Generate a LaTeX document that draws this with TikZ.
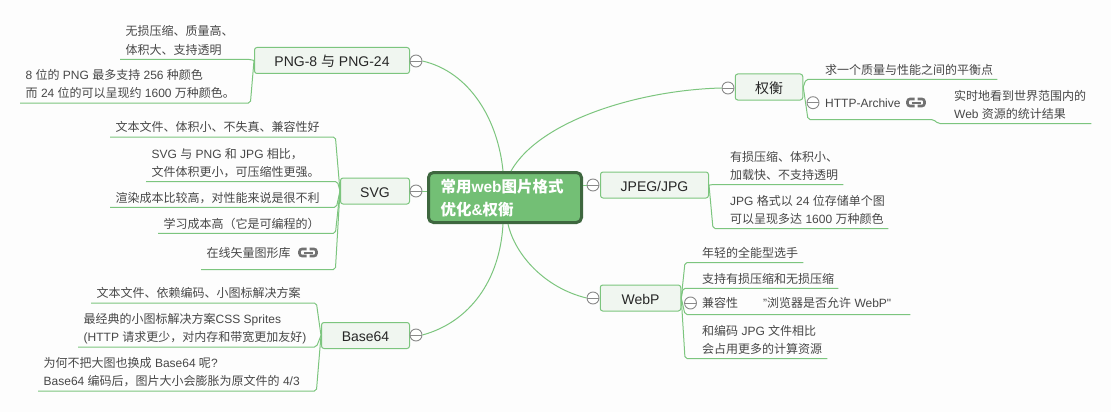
\documentclass[tikz,border=0pt]{standalone}
\usepackage{fontspec}
\setmainfont{Liberation Sans}
\newfontfamily\latinfont{Liberation Sans}
\newfontfamily\cjk{Noto Sans CJK SC}
% switch to the CJK font by itself, between Latin and Chinese characters
\XeTeXinterchartokenstate=1
\newXeTeXintercharclass\zhclass
\newcount\zhchar
\zhchar="3000 \loop \XeTeXcharclass\zhchar=\zhclass \advance\zhchar by 1 \ifnum\zhchar<"3040 \repeat
\zhchar="4E00 \loop \XeTeXcharclass\zhchar=\zhclass \advance\zhchar by 1 \ifnum\zhchar<"A000 \repeat
\zhchar="FF00 \loop \XeTeXcharclass\zhchar=\zhclass \advance\zhchar by 1 \ifnum\zhchar<"FFF0 \repeat
\XeTeXinterchartoks 0 \zhclass={\cjk}
\XeTeXinterchartoks 4095 \zhclass={\cjk}
\XeTeXinterchartoks \zhclass 0={\latinfont}
\XeTeXinterchartoks \zhclass 4095={\latinfont}
\usetikzlibrary{positioning}
\definecolor{pagebg}{HTML}{FDFDFD}
\definecolor{mapgreen}{HTML}{7CC57E}
\definecolor{rootgreen}{HTML}{73BF75}
\definecolor{rootedge}{HTML}{3E673F}
\definecolor{topicfill}{HTML}{F0F6F0}
\definecolor{foldgray}{HTML}{8A8A8A}
\definecolor{iconcol}{HTML}{727272}
\tikzset{
  root/.style={draw=rootedge, fill=rootgreen, line width=3pt, rounded corners=5pt, text=white,
    font=\fontsize{15.5}{23}\selectfont\bfseries, align=left, text width=129pt, inner xsep=12pt,
    text height=15pt, text depth=26pt, minimum height=50pt},
  topic/.style={draw=mapgreen, fill=topicfill, line width=1pt, rounded corners=2.5pt, text=black!85,
    font=\fontsize{14}{17}\selectfont, text height=14.4pt, text depth=2pt, minimum height=26pt},
  leaf/.style 2 args={inner sep=0pt, anchor=south west, align=left, text width=#2, text=black!72,
    font=\fontsize{12}{18.3}\selectfont, text depth=5pt, execute at begin node={\leftskip=#1\spaceskip=3.3pt\relax}},
  two/.style={text depth=23.3pt},
  fold/.style={circle, draw=foldgray, fill=white, line width=0.9pt, minimum size=12pt, inner sep=0pt,
    path picture={\draw[foldgray, line width=0.9pt] (path picture bounding box.west) -- (path picture bounding box.east);}},
  branch/.style={draw=mapgreen, line width=1pt, rounded corners=2pt},
  limb/.style={draw=mapgreen, line width=1pt},
  linkicon/.pic={
    \draw[iconcol, line width=2.6pt, rounded corners=2.5pt] (-1.5,-3.5) -- (-8.5,-3.5) -- (-8.5,3.5) -- (-1.5,3.5);
    \draw[iconcol, line width=2.6pt, rounded corners=2.5pt] (1.5,-3.5) -- (8.5,-3.5) -- (8.5,3.5) -- (1.5,3.5);
    \draw[iconcol, line width=2pt] (-4.5,0) -- (4.5,0);
  }
}
\begin{document}
\begin{tikzpicture}[x=1pt,y=-1pt]
\fill[pagebg] (0,0) rectangle (1111,412);
\useasboundingbox (0,0) rectangle (1111,412);

%%%%%
%% centre and topics
%%%%%
\node[root] (centre) at (505,197.5) {常用web图片格式\\优化\&权衡};

\node[topic, minimum width=155pt] (png) at (332,60.5) {PNG-8 与 PNG-24};
\node[topic, minimum width=69pt] (svg) at (375,191) {SVG};
\node[topic, minimum width=88pt] (base) at (365.5,335.5) {Base64};
\node[topic, minimum width=67.5pt] (trade) at (769,87) {权衡};
\node[topic, minimum width=108pt] (jpeg) at (654.5,185) {JPEG/JPG};
\node[topic, minimum width=80.5pt] (webp) at (640.5,298) {WebP};

\node[fold] (foldPng) at (416,61) {};
\node[fold] (foldSvg) at (416,191) {};
\node[fold] (foldBase) at (416,335) {};
\node[fold] (foldTrade) at (728,88) {};
\node[fold] (foldJpeg) at (593,185) {};
\node[fold] (foldWebp) at (593,298) {};

\coordinate (rootN) at (503,171);
\coordinate (rootNE) at (511,171);
\coordinate (rootS) at (503,224);
\coordinate (rootSE) at (508,224);

\draw[limb] (foldPng.east) .. controls (470,72) and (498,120) .. (rootN);
\draw[limb] (foldSvg.east) -- (centre.west |- foldSvg);
\draw[limb] (foldBase.east) .. controls (470,322) and (500,280) .. (rootS);
\draw[limb] (foldTrade.west) .. controls (640,90) and (540,120) .. (rootNE);
\draw[limb] (foldJpeg.west) -- (centre.east |- foldJpeg);
\draw[limb] (foldWebp.west) .. controls (545,288) and (515,255) .. (rootSE);

%%%%%
%% PNG
%%%%%
\node[leaf={5.5pt}{131pt}, two] (pngA) at (120,59.5) {无损压缩、质量高、\\体积大、支持透明};
\node[leaf={5.5pt}{230pt}, two] (pngB) at (20,103) {8 位的 PNG 最多支持 256 种颜色\\而 24 位的可以呈现约 1600 万种颜色。};

\draw[branch] (png.west) -- (pngA.south east) -- (pngA.south west);
\draw[branch] (png.west) -- (pngB.south east) -- (pngB.south west);

%%%%%
%% SVG
%%%%%
\node[leaf={5.5pt}{225pt}] (svgA) at (110,137) {文本文件、体积小、不失真、兼容性好};
\node[leaf={5.5pt}{191pt}, two] (svgB) at (146,181.5) {SVG 与 PNG 和 JPG 相比，\\文件体积更小，可压缩性更强。};
\node[leaf={5.5pt}{226pt}] (svgC) at (110,207.3) {渲染成本比较高，对性能来说是很不利};
\node[leaf={5.5pt}{177pt}] (svgD) at (158,233.3) {学习成本高（它是可编程的）};
\node[leaf={5.5pt}{134pt}, text depth=11.5pt] (svgE) at (201,269.5) {在线矢量图形库};
\pic at (308,252.5) {linkicon};

\draw[branch] (svg.west) -- (svgA.south east) -- (svgA.south west);
\draw[branch] (svg.west) -- (svgB.south east) -- (svgB.south west);
\draw[branch] (svg.west) -- (svgC.south east) -- (svgC.south west);
\draw[branch] (svg.west) -- (svgD.south east) -- (svgD.south west);
\draw[branch] (svg.west) -- (svgE.south east) -- (svgE.south west);

%%%%%
%% Base64
%%%%%
\node[leaf={5.5pt}{225pt}] (baseA) at (91,303) {文本文件、依赖编码、小图标解决方案};
\node[leaf={5.5pt}{238pt}, two] (baseB) at (78,347) {最经典的小图标解决方案CSS Sprites\\(HTTP 请求更少，对内存和带宽更加友好)};
\node[leaf={5.5pt}{278pt}, two] (baseC) at (38,391) {为何不把大图也换成 Base64 呢?\\Base64 编码后，图片大小会膨胀为原文件的 4/3};

\draw[branch] (base.west) -- (baseA.south east) -- (baseA.south west);
\draw[branch] (base.west) -- (baseB.south east) -- (baseB.south west);
\draw[branch] (base.west) -- (baseC.south east) -- (baseC.south west);

%%%%%
%% trade-off
%%%%%
\node[leaf={19pt}{191pt}] (tradeA) at (806,79.3) {求一个质量与性能之间的平衡点};
\node[leaf={17pt}{125pt}, text depth=11.5pt] (tradeB) at (808,119.5) {HTTP-Archive};
\node[leaf={16pt}{153pt}, two] (tradeC) at (938,123.5) {实时地看到世界范围内的\\Web 资源的统计结果};
\pic at (916,102.5) {linkicon};

\draw[branch] (trade.east) -- (tradeA.south west) -- (tradeA.south east);
\draw[branch] (trade.east) -- (tradeB.south west) -- (tradeB.south east) -- (tradeC.south west) -- (tradeC.south east);
\node[fold] (foldHttp) at (813,102.7) {};

%%%%%
%% JPEG
%%%%%
\node[leaf={20pt}{133pt}, two] (jpegA) at (710,184.7) {有损压缩、体积小、\\加载快、不支持透明};
\node[leaf={17pt}{175pt}, two] (jpegB) at (713,228.5) {JPG 格式以 24 位存储单个图\\可以呈现多达 1600 万种颜色};

\draw[branch] (jpeg.east) -- (jpegA.south west) -- (jpegA.south east);
\draw[branch] (jpeg.east) -- (jpegB.south west) -- (jpegB.south east);

%%%%%
%% WebP
%%%%%
\node[leaf={17pt}{118pt}] (webpA) at (685,262.5) {年轻的全能型选手};
\node[leaf={19pt}{155pt}] (webpB) at (683,288.3) {支持有损压缩和无损压缩};
\node[leaf={17pt}{70pt}, text depth=7pt] (webpC) at (685,314.5) {兼容性};
\node[leaf={8pt}{155pt}, text depth=7pt] (webpD) at (755,314.5) {"浏览器是否允许 WebP"};
\node[leaf={17pt}{142pt}, two] (webpE) at (685,358.5) {和编码 JPG 文件相比\\会占用更多的计算资源};

\draw[branch] (webp.east) -- (webpA.south west) -- (webpA.south east);
\draw[branch] (webp.east) -- (webpB.south west) -- (webpB.south east);
\draw[branch] (webp.east) -- (webpC.south west) -- (webpD.south east);
\draw[branch] (webp.east) -- (webpE.south west) -- (webpE.south east);
\node[fold] (foldCompat) at (690.5,303) {};

\end{tikzpicture}
\end{document}
